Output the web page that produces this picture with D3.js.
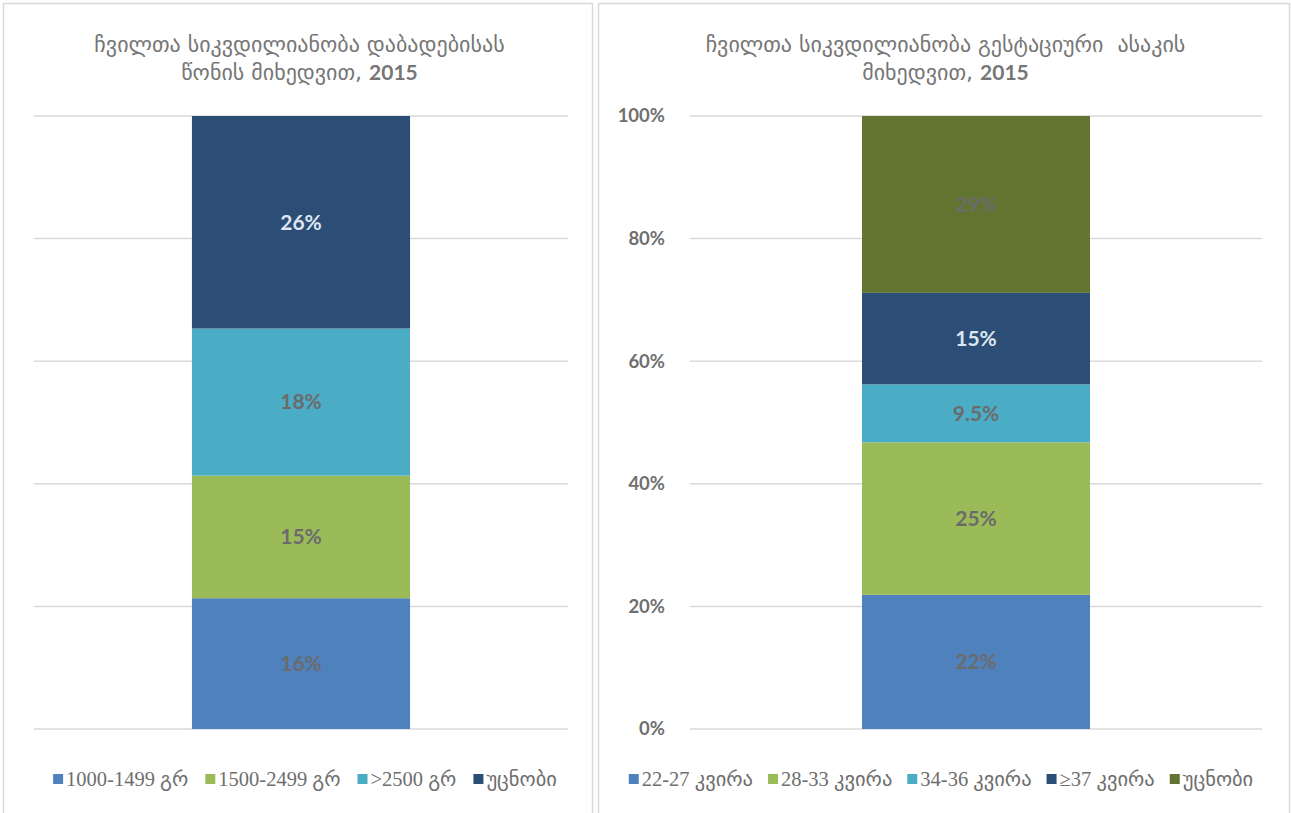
<!DOCTYPE html>
<html>
<head>
<meta charset="utf-8">
<script src="https://cdn.jsdelivr.net/npm/d3@7"></script>
<style>
  body { margin: 0; background: #fff; }
  svg { display: block; }
</style>
</head>
<body>
<svg id="chart" width="1292" height="813"></svg>
<script>
// data
const leftTitle = [["ჩვილთა სიკვდილიანობა დაბადებისას", ""], ["წონის მიხედვით, ", "2015"]];
const leftCategories = ["1000-1499 გრ", "1500-2499 გრ", ">2500 გრ", "უცნობი"];
const leftValues = [16, 15, 18, 26];
const leftLabels = ["16%", "15%", "18%", "26%"];

const rightTitle = [["ჩვილთა სიკვდილიანობა გესტაციური  ასაკის", ""], ["მიხედვით, ", "2015"]];
const rightCategories = ["22-27 კვირა", "28-33 კვირა", "34-36 კვირა", "≥37 კვირა", "უცნობი"];
const rightValues = [22, 25, 9.5, 15, 29];
const rightLabels = ["22%", "25%", "9.5%", "15%", "29%"];

const yTicks = [0, 0.2, 0.4, 0.6, 0.8, 1];

const svg = d3.select("#chart");
const numFont = "Lato, 'Open Sans', 'DejaVu Sans', sans-serif";
const legendFont = "'Liberation Serif', 'DejaVu Sans', serif";

function drawPanel(opt) {
    const g = svg.append("g");

    // panel border
    g.append("rect")
        .attr("x", opt.x0 + 0.5).attr("y", 3.5)
        .attr("width", opt.x1 - opt.x0).attr("height", 830)
        .attr("fill", "none")
        .attr("stroke", "#d9d9d9")
        .attr("stroke-width", 1.5);

    const y = d3.scaleLinear().domain([0, 1]).range([729, 116]);
    const x = d3.scaleBand().domain(["2015"]).range([opt.plotL, opt.plotR])
        .paddingInner(opt.pad).paddingOuter(opt.pad);

    // gridlines
    g.append("g").selectAll("line")
        .data(yTicks)
        .join("line")
        .attr("x1", opt.plotL).attr("x2", opt.plotR)
        .attr("y1", d => y(d)).attr("y2", d => y(d))
        .attr("stroke", "#d9d9d9")
        .attr("stroke-width", 1.5);

    if (opt.showAxis) {
        const axis = g.append("g")
            .attr("transform", `translate(${opt.plotL - 22},0)`)
            .call(d3.axisLeft(y).tickValues(yTicks).tickFormat(d3.format(".0%")).tickSize(0));
        axis.select(".domain").remove();
        axis.selectAll("text")
            .attr("fill", "#6f6f6f")
            .style("font-family", numFont)
            .style("font-weight", "bold")
            .style("font-size", "18.5px");
    }

    // stacked data, normalised to 100%
    const row = { year: "2015" };
    opt.categories.forEach((c, i) => row[c] = opt.values[i]);
    const series = d3.stack().keys(opt.categories).offset(d3.stackOffsetExpand)([row]);

    g.append("g").selectAll("rect")
        .data(series)
        .join("rect")
        .attr("x", x("2015"))
        .attr("width", x.bandwidth())
        .attr("y", d => y(d[0][1]))
        .attr("height", d => y(d[0][0]) - y(d[0][1]))
        .attr("fill", (d, i) => opt.colors[i]);

    g.append("g").selectAll("text")
        .data(series)
        .join("text")
        .attr("x", x("2015") + x.bandwidth() / 2)
        .attr("y", d => y((d[0][0] + d[0][1]) / 2))
        .attr("dy", "0.35em")
        .attr("text-anchor", "middle")
        .attr("fill", (d, i) => opt.labelColors[i])
        .style("font-family", numFont)
        .style("font-weight", "bold")
        .style("font-size", "21px")
        .text((d, i) => opt.labels[i]);

    // title: Georgian part regular, year bold, centred on the panel
    const cx = (opt.x0 + opt.x1) / 2 + 2;
    const lines = g.append("g").selectAll("text")
        .data(opt.title)
        .join("text")
        .attr("x", cx)
        .attr("y", (d, i) => 52 + i * 28)
        .attr("text-anchor", "middle")
        .attr("fill", "#767676")
        .style("white-space", "pre")
        .style("font-family", "'DejaVu Sans', sans-serif")
        .style("font-size", "22px");
    lines.append("tspan").text(d => d[0]);
    lines.append("tspan")
        .style("font-family", numFont)
        .style("font-weight", "bold")
        .style("font-size", "21px")
        .text(d => d[1]);

    // legend
    const leg = g.append("g");
    const items = leg.selectAll("g")
        .data(opt.categories)
        .join("g");
    items.append("rect")
        .attr("width", 10).attr("height", 10)
        .attr("y", -5)
        .attr("fill", (d, i) => opt.colors[i]);
    items.append("text")
        .attr("x", 13)
        .attr("dy", "0.35em")
        .attr("fill", "#6e6e6e")
        .style("font-family", legendFont)
        .style("font-size", "20.5px")
        .text(d => d);
    let pos = 0;
    items.each(function() {
        const w = d3.select(this).select("text").node().getComputedTextLength();
        d3.select(this).attr("transform", `translate(${pos},0)`);
        pos += 13 + w + opt.legendGap;
    });
    pos -= opt.legendGap;
    leg.attr("transform", `translate(${opt.legendCx - pos / 2},779)`);
}

drawPanel({
    x0: 3, x1: 592,
    plotL: 34, plotR: 568, pad: 0.42,
    title: leftTitle,
    categories: leftCategories, values: leftValues, labels: leftLabels,
    colors: ["#4f81bd", "#9bbb59", "#4bacc6", "#2c4d75"],
    labelColors: ["#6b6b6b", "#6b6b6b", "#6b6b6b", "#dde6f1"],
    showAxis: false,
    legendGap: 17, legendCx: 305
});

drawPanel({
    x0: 598, x1: 1289,
    plotL: 690, plotR: 1262, pad: 0.43,
    title: rightTitle,
    categories: rightCategories, values: rightValues, labels: rightLabels,
    colors: ["#4f81bd", "#9bbb59", "#4bacc6", "#2c4d75", "#617530"],
    labelColors: ["#6b6b6b", "#6b6b6b", "#6b6b6b", "#dde6f1", "#6b6b6b"],
    showAxis: true,
    legendGap: 15, legendCx: 941
});
</script>
</body>
</html>
